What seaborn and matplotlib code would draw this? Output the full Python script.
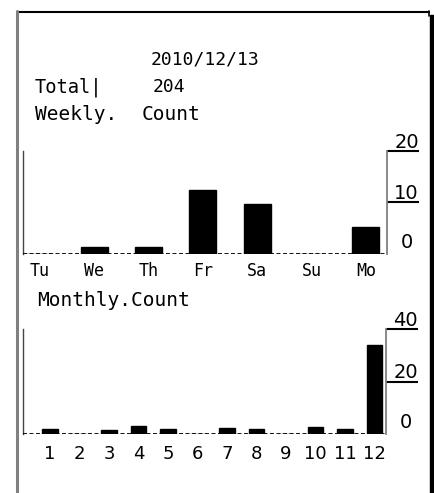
import matplotlib
matplotlib.use("Agg")
import matplotlib.pyplot as plt
import seaborn as sns
import pandas as pd
from matplotlib.patches import Rectangle

# ---- data ----
date_label = "2010/12/13"
total_count = 204
days = ["Tu", "We", "Th", "Fr", "Sa", "Su", "Mo"]
weekly_counts = [0, 1.4, 1.4, 12.4, 9.7, 0, 5.2]
months = ["1", "2", "3", "4", "5", "6", "7", "8", "9", "10", "11", "12"]
monthly_counts = [1.9, 0, 1.4, 3.0, 1.9, 0, 2.4, 1.9, 0, 2.7, 1.9, 34]
weekly_ticks = [0, 10, 20]
monthly_ticks = [0, 20, 40]

sns.set_theme(style="white")
plt.rcParams["font.family"] = ["DejaVu Sans"]
plt.rcParams["text.color"] = "black"
plt.rcParams["xtick.color"] = "black"
plt.rcParams["ytick.color"] = "black"

W, H = 435, 493
fig = plt.figure(figsize=(W / 100, H / 100), dpi=100)
fig.patch.set_facecolor("white")

# background frame axes (pixel coords)
bg = fig.add_axes([0, 0, 1, 1])
bg.set_xlim(0, W)
bg.set_ylim(H, 0)
bg.axis("off")
bg.plot([17, 429], [11.5, 11.5], color="black", lw=1.5)
bg.plot([17, 17], [11, H], color="#808080", lw=2.2)
bg.plot([429, 429], [11, 16], color="black", lw=1.2)
bg.add_patch(Rectangle((430, 15), 6, H - 15, color="black"))

mono = "DejaVu Sans Mono"
bg.text(151, 59, date_label, family=mono, fontsize=13, va="center", ha="left", color="black")
bg.text(35, 87, "Total|", family=mono, fontsize=13.5, va="center", ha="left", color="black")
bg.text(153, 87, str(total_count), family=mono, fontsize=13, va="center", ha="left", color="black")
bg.text(35, 114, "Weekly.", family=mono, fontsize=14, va="center", ha="left", color="black")
bg.text(142, 114, "Count", family=mono, fontsize=14, va="center", ha="left", color="black")
bg.text(37, 301, "Monthly.Count", family=mono, fontsize=14, va="center", ha="left", color="black")


def make_axes(left, right, top, bottom):
    return fig.add_axes([left / W, 1 - bottom / H, (right - left) / W, (bottom - top) / H])


def style_axes(ax, ticks, ymax, xlim, label_font, label_size, pad):
    ax.set_ylim(0, ymax)
    ax.set_xlim(*xlim)
    ax.set_facecolor("none")
    for s in ["top", "bottom"]:
        ax.spines[s].set_visible(False)
    ax.spines["left"].set_color("#444444")
    ax.spines["left"].set_linewidth(1.0)
    ax.spines["right"].set_visible(True)
    ax.spines["right"].set_color("#808080")
    ax.spines["right"].set_linewidth(1.3)
    ax.axhline(0, color="black", lw=1.3, ls=(0, (2.2, 1.4)), zorder=5)
    ax.set_xlabel("")
    ax.set_ylabel("")
    ax.yaxis.tick_right()
    ax.set_yticks([t for t in ticks if t > 0])
    ax.set_yticklabels([])
    ax.tick_params(axis="y", which="both", right=True, left=False, length=23,
                   width=1.5, color="black", direction="out")
    ax.tick_params(axis="x", bottom=False, pad=pad, colors="black")
    for lab in ax.get_xticklabels():
        lab.set_family(label_font)
        lab.set_fontsize(label_size)
        lab.set_color("black")
    for t in ticks:
        ax.annotate(str(t), xy=(1, t), xycoords=("axes fraction", "data"),
                    xytext=(14, 2.5 if t > 0 else 4), textcoords="offset points",
                    ha="center", va="baseline", fontsize=14, family="DejaVu Sans",
                    color="black", annotation_clip=False)


# weekly chart
ax1 = make_axes(23, 387, 151, 254)
df_w = pd.DataFrame({"day": days, "count": weekly_counts})
sns.barplot(data=df_w, x="day", y="count", color="black", width=0.5,
            saturation=1, ax=ax1, edgecolor="black")
style_axes(ax1, weekly_ticks, 20, (-0.31, 6.39), mono, 12, 0)

# monthly chart
ax2 = make_axes(23, 386, 329, 434)
df_m = pd.DataFrame({"month": months, "count": monthly_counts})
sns.barplot(data=df_m, x="month", y="count", color="black", width=0.52,
            saturation=1, ax=ax2, edgecolor="black", order=months)
style_axes(ax2, monthly_ticks, 40, (-0.92, 11.39), "DejaVu Sans", 13, 2)

fig.savefig("out.png", dpi=100, facecolor="white")
